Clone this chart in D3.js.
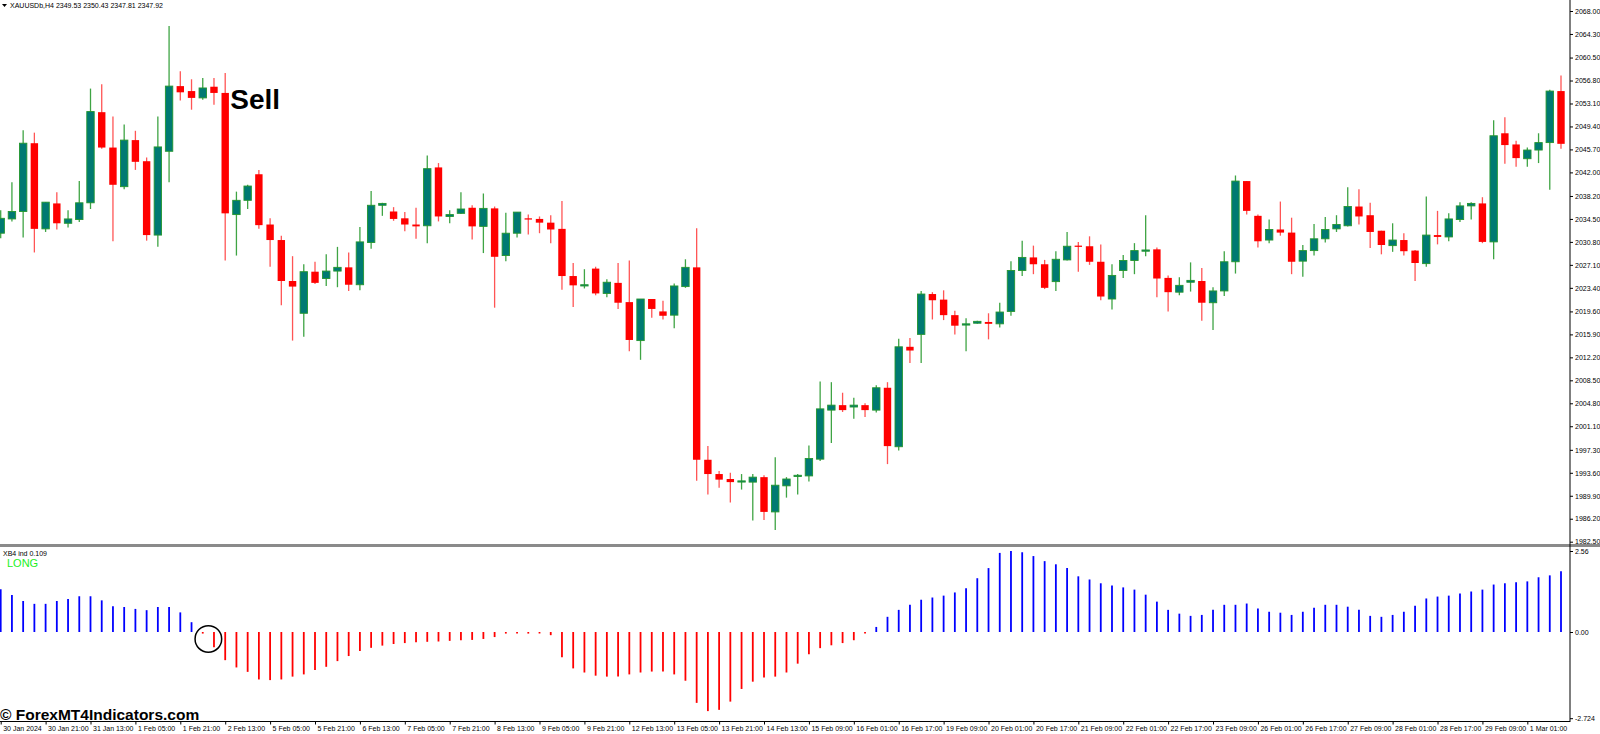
<!DOCTYPE html>
<html>
<head>
<meta charset="utf-8">
<script src="https://cdn.jsdelivr.net/npm/d3@7"></script>
<style>
body { margin: 0; background: #fff; }
svg { display: block; font-family: "Liberation Sans", Arial, sans-serif; }
</style>
</head>
<body>
<div id="chart"></div>
<script>
const dateLabels = ['30 Jan 2024', '30 Jan 21:00', '31 Jan 13:00', '1 Feb 05:00', '1 Feb 21:00', '2 Feb 13:00',
    '5 Feb 05:00', '5 Feb 21:00', '6 Feb 13:00', '7 Feb 05:00', '7 Feb 21:00', '8 Feb 13:00', '9 Feb 05:00',
    '9 Feb 21:00', '12 Feb 13:00', '13 Feb 05:00', '13 Feb 21:00', '14 Feb 13:00', '15 Feb 09:00', '16 Feb 01:00',
    '16 Feb 17:00', '19 Feb 09:00', '20 Feb 01:00', '20 Feb 17:00', '21 Feb 09:00', '22 Feb 01:00', '22 Feb 17:00',
    '23 Feb 09:00', '26 Feb 01:00', '26 Feb 17:00', '27 Feb 09:00', '28 Feb 01:00', '28 Feb 17:00', '29 Feb 09:00',
    '1 Mar 01:00'];

const priceTicks = [2068.00, 2064.30, 2060.50, 2056.80, 2053.10, 2049.40, 2045.70, 2042.00, 2038.20, 2034.50,
    2030.80, 2027.10, 2023.40, 2019.60, 2015.90, 2012.20, 2008.50, 2004.80, 2001.10, 1997.30, 1993.60,
    1989.90, 1986.20, 1982.50];

const indTicks = [2.56, 0, -2.724];
const indTickLabels = ['2.56', '0.00', '-2.724'];

const opens = [2032.2, 2034.5, 2035.7, 2046.7, 2032.9, 2037.0, 2033.8, 2034.4, 2037.1, 2051.7,
    2046.0, 2039.7, 2047.2, 2043.8, 2031.9, 2045.4, 2055.9, 2055.1, 2054.0, 2055.8,
    2054.8, 2035.2, 2037.5, 2041.7, 2033.6, 2031.1, 2024.5, 2019.3, 2026.0, 2024.9,
    2026.1, 2026.7, 2023.9, 2030.7, 2036.7, 2035.7, 2034.6, 2033.6, 2033.4, 2042.8,
    2034.9, 2035.4, 2036.3, 2033.3, 2036.2, 2028.6, 2032.2, 2034.6, 2034.5, 2033.9,
    2032.9, 2025.3, 2023.7, 2026.5, 2022.5, 2024.2, 2021.1, 2014.9, 2021.6, 2019.6,
    2019.0, 2023.6, 2026.7, 1995.7, 1993.4, 1992.6, 1992.2, 1992.1, 1992.9, 1987.3,
    1991.5, 1993.0, 1993.1, 1995.8, 2003.7, 2004.5, 2004.2, 2004.5, 2003.7, 2007.3,
    1997.8, 2013.9, 2015.9, 2022.4, 2021.5, 2019.0, 2017.4, 2017.7, 2017.9, 2017.6,
    2019.6, 2026.2, 2028.3, 2027.2, 2024.4, 2027.9, 2030.2, 2030.1, 2027.6, 2021.6,
    2026.2, 2027.8, 2029.3, 2029.6, 2025.0, 2022.7, 2024.3, 2024.5, 2021.0, 2022.9,
    2027.6, 2040.6, 2035.0, 2031.1, 2032.8, 2032.3, 2027.7, 2029.4, 2031.3, 2032.9,
    2033.4, 2036.5, 2035.1, 2032.6, 2030.2, 2031.1, 2029.4, 2027.3, 2031.9, 2031.6,
    2034.4, 2036.6, 2037.0, 2030.8, 2048.3, 2046.5, 2044.2, 2045.6, 2046.8, 2055.1];

const highs = [2035.9, 2040.4, 2048.8, 2048.4, 2037.2, 2038.8, 2035.9, 2040.6, 2055.5, 2056.2,
    2051.0, 2049.7, 2048.7, 2044.4, 2051.0, 2065.6, 2058.3, 2057.0, 2057.2, 2057.2,
    2058.0, 2038.9, 2040.0, 2042.4, 2034.6, 2031.8, 2028.5, 2027.2, 2027.6, 2028.8,
    2030.0, 2029.1, 2033.2, 2039.0, 2037.1, 2036.4, 2035.6, 2036.3, 2044.7, 2043.5,
    2035.9, 2038.8, 2036.7, 2038.6, 2036.5, 2035.5, 2035.6, 2035.2, 2034.9, 2035.1,
    2037.4, 2027.4, 2026.4, 2026.8, 2024.8, 2027.4, 2027.8, 2021.6, 2021.6, 2021.3,
    2024.1, 2028.0, 2033.0, 1997.9, 1993.9, 1993.6, 1993.4, 1993.4, 1993.2, 1996.1,
    1992.9, 1993.4, 1998.0, 2008.3, 2008.2, 2006.5, 2005.7, 2004.8, 2007.7, 2008.2,
    2015.2, 2015.3, 2022.9, 2022.7, 2023.0, 2019.7, 2018.5, 2018.1, 2019.3, 2021.0,
    2027.7, 2031.0, 2030.2, 2027.9, 2029.3, 2032.4, 2030.8, 2031.7, 2030.4, 2027.2,
    2028.7, 2030.6, 2035.1, 2029.9, 2025.4, 2025.1, 2027.5, 2026.6, 2023.5, 2029.3,
    2041.5, 2040.6, 2035.2, 2034.4, 2037.3, 2034.7, 2030.3, 2033.7, 2034.8, 2035.1,
    2039.6, 2039.3, 2037.1, 2032.6, 2033.8, 2032.2, 2029.5, 2038.1, 2035.8, 2035.4,
    2037.2, 2037.2, 2038.0, 2050.4, 2050.9, 2047.1, 2046.0, 2048.3, 2055.3, 2057.6];

const lows = [2031.4, 2034.1, 2031.5, 2029.1, 2032.4, 2032.8, 2033.1, 2034.0, 2036.1, 2045.8,
    2030.9, 2039.3, 2042.4, 2031.0, 2030.0, 2040.4, 2053.6, 2052.1, 2053.7, 2052.9,
    2027.8, 2028.6, 2036.1, 2032.9, 2026.8, 2020.6, 2014.9, 2015.5, 2024.0, 2023.7,
    2023.5, 2022.9, 2023.0, 2029.7, 2035.0, 2034.2, 2032.5, 2031.3, 2030.6, 2034.1,
    2033.8, 2035.3, 2031.2, 2029.0, 2020.2, 2027.7, 2031.5, 2032.0, 2032.2, 2030.6,
    2023.1, 2020.3, 2023.3, 2022.2, 2021.9, 2020.0, 2013.2, 2011.8, 2018.6, 2018.3,
    2016.9, 2023.4, 1992.3, 1990.1, 1991.2, 1988.8, 1990.9, 1985.9, 1986.0, 1984.4,
    1989.6, 1990.1, 1992.2, 1995.5, 1998.4, 2003.4, 2002.3, 2002.6, 2003.3, 1995.0,
    1997.2, 2011.3, 2011.3, 2018.3, 2018.2, 2015.9, 2013.2, 2017.6, 2015.1, 2017.0,
    2018.9, 2025.3, 2025.6, 2023.2, 2022.9, 2027.8, 2026.0, 2027.1, 2021.4, 2019.9,
    2025.0, 2025.6, 2028.5, 2021.9, 2019.6, 2022.2, 2022.8, 2018.1, 2016.6, 2022.1,
    2025.7, 2035.2, 2029.9, 2030.6, 2031.8, 2025.6, 2025.2, 2028.6, 2030.7, 2032.4,
    2033.3, 2033.6, 2029.8, 2028.8, 2029.2, 2028.6, 2024.5, 2026.8, 2030.4, 2030.9,
    2034.0, 2034.4, 2030.6, 2028.0, 2043.4, 2042.9, 2042.9, 2043.5, 2039.2, 2045.8];

const closes = [2034.6, 2035.7, 2046.7, 2032.9, 2037.2, 2033.8, 2034.5, 2037.1, 2051.8, 2046.0,
    2040.0, 2047.2, 2043.7, 2031.9, 2046.1, 2055.9, 2054.9, 2054.0, 2055.6, 2054.8,
    2035.4, 2037.5, 2039.8, 2033.5, 2031.1, 2024.5, 2023.6, 2026.0, 2024.2, 2026.1,
    2026.7, 2023.9, 2030.8, 2036.7, 2037.0, 2034.5, 2033.6, 2033.3, 2042.6, 2034.9,
    2035.2, 2036.1, 2033.3, 2036.2, 2028.4, 2032.2, 2035.6, 2034.4, 2033.9, 2032.8,
    2025.3, 2023.8, 2023.9, 2022.5, 2024.3, 2021.0, 2015.0, 2021.6, 2020.0, 2018.9,
    2023.7, 2026.7, 1995.7, 1993.4, 1992.5, 1992.1, 1992.3, 1992.9, 1987.3, 1991.6,
    1992.6, 1993.2, 1995.9, 2003.9, 2004.5, 2003.7, 2004.5, 2003.7, 2007.3, 1997.9,
    2013.9, 2013.3, 2022.4, 2021.4, 2019.0, 2017.3, 2017.6, 2018.0, 2017.6, 2019.5,
    2026.2, 2028.3, 2027.2, 2023.4, 2028.0, 2030.1, 2030.0, 2027.6, 2022.0, 2025.4,
    2027.8, 2029.4, 2029.5, 2024.9, 2022.7, 2023.8, 2024.6, 2021.0, 2022.9, 2027.6,
    2040.6, 2035.8, 2030.9, 2032.8, 2032.3, 2027.6, 2029.4, 2031.3, 2032.8, 2033.6,
    2036.5, 2034.9, 2032.4, 2030.3, 2031.1, 2029.3, 2027.4, 2031.9, 2031.6, 2034.5,
    2036.6, 2037.0, 2030.8, 2047.9, 2046.4, 2044.3, 2045.6, 2046.8, 2055.1, 2046.6];

const xb4Values = [1.35, 1.17, 0.98, 0.89, 0.89, 0.98, 1.04, 1.13, 1.13, 1.00,
    0.81, 0.79, 0.73, 0.69, 0.79, 0.79, 0.62, 0.31, -0.05, -0.48,
    -0.89, -1.12, -1.26, -1.50, -1.52, -1.50, -1.41, -1.34, -1.20, -1.10,
    -0.92, -0.76, -0.60, -0.50, -0.43, -0.38, -0.35, -0.32, -0.31, -0.30,
    -0.28, -0.26, -0.25, -0.22, -0.16, -0.05, -0.03, -0.05, -0.02, -0.10,
    -0.80, -1.15, -1.28, -1.38, -1.41, -1.41, -1.34, -1.28, -1.25, -1.25,
    -1.34, -1.54, -2.24, -2.50, -2.46, -2.20, -1.80, -1.57, -1.44, -1.41,
    -1.28, -1.00, -0.70, -0.51, -0.42, -0.35, -0.26, -0.03, 0.16, 0.48,
    0.70, 0.86, 1.02, 1.09, 1.15, 1.25, 1.38, 1.70, 2.02, 2.50,
    2.56, 2.52, 2.40, 2.24, 2.14, 2.02, 1.76, 1.66, 1.54, 1.47,
    1.41, 1.34, 1.18, 0.96, 0.70, 0.58, 0.51, 0.54, 0.70, 0.86,
    0.86, 0.90, 0.74, 0.64, 0.61, 0.54, 0.64, 0.77, 0.86, 0.86,
    0.80, 0.70, 0.51, 0.48, 0.54, 0.64, 0.83, 1.06, 1.12, 1.15,
    1.22, 1.28, 1.34, 1.50, 1.54, 1.57, 1.60, 1.73, 1.79, 1.92];

const W = 1600, H = 734;
const axisX = 1570;

const svg = d3.select('#chart').append('svg')
    .attr('width', W)
    .attr('height', H);

svg.append('rect').attr('width', W).attr('height', H).attr('fill', '#fff');

const x = d3.scaleLinear().domain([0, opens.length - 1]).range([0.7, 1561]);
const yPrice = d3.scaleLinear().domain([1982.5, 2068]).range([541.7, 11]);
const yInd = d3.scaleLinear().domain([-2.724, 2.56]).range([718.2, 551]);

const candles = opens.map((o, i) => ({i, o, h: highs[i], l: lows[i], c: closes[i]}));

svg.append('clipPath').attr('id', 'mainClip')
    .append('rect').attr('x', 0).attr('y', 0).attr('width', axisX).attr('height', 544);

const main = svg.append('g').attr('clip-path', 'url(#mainClip)');
const bodyW = 7.4;

// wicks
main.selectAll('.wick')
    .data(candles)
    .enter().append('line')
    .attr('class', 'wick')
    .attr('x1', d => x(d.i))
    .attr('x2', d => x(d.i))
    .attr('y1', d => yPrice(d.h))
    .attr('y2', d => yPrice(d.l))
    .attr('stroke', d => d.c >= d.o ? '#3fa444' : '#ff5555')
    .attr('stroke-width', 1.3);

// bodies
main.selectAll('.body')
    .data(candles)
    .enter().append('rect')
    .attr('class', 'body')
    .attr('x', d => x(d.i) - bodyW / 2)
    .attr('y', d => yPrice(Math.max(d.o, d.c)))
    .attr('width', bodyW)
    .attr('height', d => Math.max(1.2, Math.abs(yPrice(d.o) - yPrice(d.c))))
    .attr('fill', d => d.c >= d.o ? '#007a72' : '#ff0000')
    .attr('stroke', d => d.c >= d.o ? '#23962f' : 'none')
    .attr('stroke-width', 0.9);

// Sell label
main.append('text')
    .attr('x', x(20.45))
    .attr('y', yPrice(2052.2))
    .style('font-size', '28px')
    .style('font-weight', 'bold')
    .style('fill', '#000')
    .text('Sell');

// header
svg.append('path')
    .attr('d', 'M2,4 L7,4 L4.5,7 Z')
    .attr('fill', '#000');
svg.append('text')
    .attr('x', 10).attr('y', 8)
    .style('font-size', '7px')
    .style('fill', '#000')
    .text('XAUUSDb,H4  2349.53 2350.43 2347.81 2347.92');

// panel separator
svg.append('rect')
    .attr('x', 0).attr('y', 544)
    .attr('width', W).attr('height', 3)
    .attr('fill', '#8a8a8a');

// indicator bars
const ind = svg.append('g');
ind.selectAll('.xb4')
    .data(xb4Values)
    .enter().append('line')
    .attr('class', 'xb4')
    .attr('x1', (d, i) => x(i))
    .attr('x2', (d, i) => x(i))
    .attr('y1', yInd(0))
    .attr('y2', d => Math.abs(yInd(d) - yInd(0)) < 1.5 ? yInd(0) + (d < 0 ? 1.5 : -1.5) : yInd(d))
    .attr('stroke', d => d >= 0 ? '#0000ff' : '#ff0000')
    .attr('stroke-width', 1.8);

ind.append('circle')
    .attr('cx', x(18.5))
    .attr('cy', yInd(-0.22))
    .attr('r', 13.3)
    .attr('fill', 'none')
    .attr('stroke', '#000')
    .attr('stroke-width', 1.5);

svg.append('text')
    .attr('x', 3).attr('y', 555.5)
    .style('font-size', '7px')
    .style('fill', '#000')
    .text('XB4 ind 0.109');

svg.append('text')
    .attr('x', 7).attr('y', 567)
    .style('font-size', '11px')
    .style('fill', '#1cf01c')
    .text('LONG');

// frame lines
svg.append('line')
    .attr('x1', axisX).attr('x2', axisX)
    .attr('y1', 0).attr('y2', 722)
    .attr('stroke', '#000').attr('stroke-width', 1);
svg.append('line')
    .attr('x1', 0).attr('x2', axisX)
    .attr('y1', 721.5).attr('y2', 721.5)
    .attr('stroke', '#000').attr('stroke-width', 1);

// price axis
const priceAxis = svg.append('g')
    .attr('transform', `translate(${axisX},0)`)
    .call(d3.axisRight(yPrice)
        .tickValues(priceTicks)
        .tickFormat(d3.format('.2f'))
        .tickSize(3)
        .tickPadding(2));
priceAxis.select('.domain').remove();
priceAxis.selectAll('text').style('font-size', '7px').style('font-family', '"Liberation Sans", Arial, sans-serif');

// indicator axis
const indAxis = svg.append('g')
    .attr('transform', `translate(${axisX},0)`)
    .call(d3.axisRight(yInd)
        .tickValues(indTicks)
        .tickFormat((d, k) => indTickLabels[k])
        .tickSize(3)
        .tickPadding(2));
indAxis.select('.domain').remove();
indAxis.selectAll('text').style('font-size', '7px').style('font-family', '"Liberation Sans", Arial, sans-serif');

// time axis
const timeAxis = svg.append('g')
    .attr('transform', 'translate(0,721.5)')
    .call(d3.axisBottom(x)
        .tickValues(dateLabels.map((d, k) => k * 4))
        .tickFormat((d, k) => dateLabels[k])
        .tickSize(3)
        .tickPadding(2));
timeAxis.select('.domain').remove();
timeAxis.selectAll('text')
    .attr('text-anchor', 'start')
    .attr('dx', 2)
    .style('font-size', '7px')
    .style('font-family', '"Liberation Sans", Arial, sans-serif');

// watermark
svg.append('text')
    .attr('x', 0).attr('y', 720)
    .style('font-size', '15.5px')
    .style('font-weight', 'bold')
    .style('fill', '#000')
    .text('\u00A9 ForexMT4Indicators.com');
</script>
</body>
</html>
